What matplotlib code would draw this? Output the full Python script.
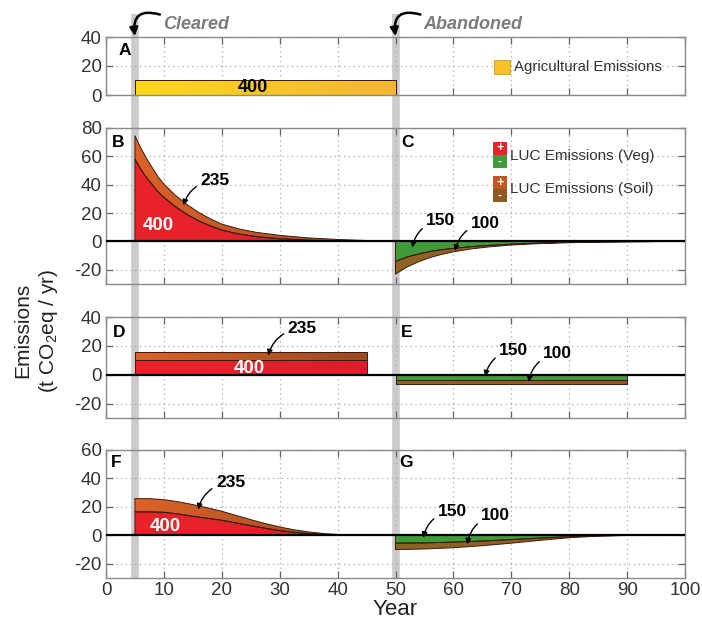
import numpy as np
import matplotlib
matplotlib.use('Agg')
import matplotlib.pyplot as plt
from matplotlib.colors import LinearSegmentedColormap
from matplotlib.patches import Rectangle
from matplotlib.lines import Line2D
import matplotlib.transforms as mtransforms

plt.rcParams['font.family'] = ['Liberation Sans', 'DejaVu Sans']
plt.rcParams['mathtext.fontset'] = 'custom'
plt.rcParams['mathtext.rm'] = 'Liberation Sans'
plt.rcParams['axes.unicode_minus'] = False

# ---------------- data ----------------
year_ticks = [0, 10, 20, 30, 40, 50, 60, 70, 80, 90, 100]
cleared_year = 5
abandoned_year = 50

# Panel A: agricultural emissions
agri_years = [5, 50]
agri_vals = [10.5, 10.5]

# Panel B: LUC emissions after clearing (exponential decay)
b_years = [5, 6, 7, 8, 9, 10, 12, 14, 16, 18, 20, 23, 26, 30, 35, 40, 45, 50]
b_veg = [58, 51, 45, 40, 35, 31, 24.5, 19, 14.5, 11, 8, 5.2, 3.4, 1.9, 0.9, 0.4, 0.15, 0]
b_soil = [16.5, 15, 13.5, 12, 10.5, 9.5, 8, 7, 6.0, 5.0, 4.2, 3.6, 3.0, 2.4, 1.6, 1.0, 0.5, 0.1]

# Panel C: LUC emissions after abandonment (regrowth)
c_years = [50, 52, 54, 56, 58, 60, 63, 66, 70, 75, 80, 85, 90, 95, 100]
c_veg = [-14, -11, -8.8, -7, -5.8, -4.9, -3.7, -2.8, -1.9, -1.1, -0.6, -0.3, -0.15, -0.05, 0]
c_soil = [-9, -7, -5.5, -4.3, -3.3, -2.4, -1.6, -1.1, -0.6, -0.4, -0.3, -0.15, -0.1, -0.05, 0]

# Panel D / E: flat (annualised) emissions
d_years = [5, 45]
d_veg = [10, 10]
d_soil = [5.9, 5.9]
e_years = [50, 90]
e_veg = [-3.9, -3.9]
e_soil = [-2.4, -2.4]

# Panel F / G: smooth (sigmoid) emissions
f_years = [5, 7.5, 10, 12.5, 15, 17.5, 20, 22.5, 25, 27.5, 30, 32.5, 35, 37.5, 40, 42.5, 45]
f_veg = [16.5, 16.5, 16.2, 15, 13.4, 12, 10.6, 8.7, 6.8, 5, 3.3, 2.1, 1.2, 0.6, 0.25, 0.08, 0]
f_soil = [9.3, 9.3, 8.9, 8.6, 8.2, 7.4, 6.3, 5.3, 4.2, 3.3, 2.6, 1.8, 1.2, 0.7, 0.35, 0.12, 0]
g_years = [50, 55, 60, 65, 70, 75, 80, 85, 90, 100]
g_veg = [-5.5, -5.3, -4.8, -4.0, -3.0, -1.9, -0.9, -0.3, -0.05, 0]
g_soil = [-4.5, -4.3, -3.9, -3.3, -2.5, -1.6, -0.8, -0.25, -0.05, 0]

# ---------------- colours ----------------
YEL0, YEL1 = '#fbd81a', '#f4b632'
RED0, RED1 = '#ea232b', '#dc1f28'
SOILP0, SOILP1 = '#dc6228', '#9b4a22'
GRN0, GRN1 = '#3f9c3a', '#46983c'
SOILN0, SOILN1 = '#8d6424', '#9c5428'
EDGE = '#3a1a10'

fig = plt.figure(figsize=(7.02, 6.24), dpi=100)
fig.patch.set_facecolor('white')

L, W = 106 / 702, (685 - 106) / 702
def add_ax(top_px, bot_px):
    return fig.add_axes([L, 1 - bot_px / 624, W, (bot_px - top_px) / 624])

axA = add_ax(37, 95)
axB = add_ax(128, 284)
axD = add_ax(317, 418)
axF = add_ax(450, 578)
axes = [axA, axB, axD, axF]


def grad_fill(ax, x, lo, hi, c0, c1, z=2):
    x = np.asarray(x, float)
    lo = np.broadcast_to(np.asarray(lo, float), x.shape)
    hi = np.broadcast_to(np.asarray(hi, float), x.shape)
    poly = ax.fill_between(x, lo, hi, facecolor='none', edgecolor=EDGE,
                           lw=0.7, zorder=z + 0.1)
    cmap = LinearSegmentedColormap.from_list('g', [c0, c1])
    grad = np.linspace(0, 1, 256).reshape(1, -1)
    ymin = min(lo.min(), hi.min())
    ymax = max(lo.max(), hi.max())
    im = ax.imshow(grad, extent=[x.min(), x.max(), ymin, ymax], aspect='auto',
                   cmap=cmap, origin='lower', zorder=z, interpolation='bilinear')
    im.set_clip_path(poly.get_paths()[0], transform=ax.transData)
    return poly


def stack(ax, yrs, veg, soil, pos=True):
    veg = np.asarray(veg, float)
    tot = veg + np.asarray(soil, float)
    if pos:
        grad_fill(ax, yrs, 0, veg, RED0, RED1, z=2)
        grad_fill(ax, yrs, veg, tot, SOILP0, SOILP1, z=2)
    else:
        grad_fill(ax, yrs, veg, 0, GRN0, GRN1, z=2)
        grad_fill(ax, yrs, tot, veg, SOILN0, SOILN1, z=2)


# Panel A
grad_fill(axA, agri_years, 0, agri_vals, YEL0, YEL1)
# Rows B/C, D/E, F/G
stack(axB, b_years, b_veg, b_soil, True)
stack(axB, c_years, c_veg, c_soil, False)
stack(axD, d_years, d_veg, d_soil, True)
stack(axD, e_years, e_veg, e_soil, False)
stack(axF, f_years, f_veg, f_soil, True)
stack(axF, g_years, g_veg, g_soil, False)

ylims = [(0, 40), (-30, 80), (-30, 40), (-30, 60)]
yticks = [[0, 20, 40], [-20, 0, 20, 40, 60, 80], [-20, 0, 20, 40], [-20, 0, 20, 40, 60]]
for ax, yl, yt in zip(axes, ylims, yticks):
    ax.set_facecolor('none')
    ax.set_xlim(0, 100)
    ax.set_ylim(*yl)
    ax.set_xticks(year_ticks)
    ax.set_yticks(yt)
    ax.set_axisbelow(True)
    ax.grid(True, linestyle=(0, (1.2, 2.6)), color='#b5b5b5', lw=0.9)
    ax.tick_params(direction='in', top=True, right=True, length=5, width=0.9,
                   color='#666666', labelsize=13.5, labelcolor='#333333', pad=3)
    for s in ax.spines.values():
        s.set_color('#8a8a8a')
        s.set_linewidth(1.0)
    if ax is not axF:
        ax.tick_params(labelbottom=False)
    if ax is not axA:
        ax.axhline(0, color='black', lw=1.6, zorder=5)

axF.set_xlabel('Year', fontsize=16, labelpad=0, color='#222222')

# gray event lines through all panels
trans = mtransforms.blended_transform_factory(axF.transData, fig.transFigure)
for yr in (cleared_year, abandoned_year):
    fig.add_artist(Line2D([yr, yr], [1 - 578 / 624, 1 - 14 / 624], transform=trans,
                          color='#cbcbcb', lw=5.5, zorder=-1, solid_capstyle='butt'))

# top labels with hook arrows
for yr, label in ((cleared_year, 'Cleared'), (abandoned_year, 'Abandoned')):
    axA.text(yr + 4.8, 48.5, label, fontsize=13, style='italic', weight='bold',
             color='#7c7c7c', ha='left', va='center', clip_on=False)
    axA.annotate('', xy=(yr, 40.6), xytext=(yr + 4.3, 55.5),
                 arrowprops=dict(arrowstyle='-|>', connectionstyle='arc3,rad=0.75',
                                 lw=1.8, color='black', mutation_scale=12,
                                 shrinkA=0, shrinkB=0),
                 annotation_clip=False)

# panel letters
axA.text(3.2, 31, 'A', fontsize=12.5, weight='bold', ha='center', va='center')
axB.text(2.1, 69.5, 'B', fontsize=12.5, weight='bold', ha='center', va='center')
axB.text(52.0, 69.5, 'C', fontsize=12.5, weight='bold', ha='center', va='center')
axD.text(2.2, 29.6, 'D', fontsize=12.5, weight='bold', ha='center', va='center')
axD.text(52.0, 29.6, 'E', fontsize=12.5, weight='bold', ha='center', va='center')
axF.text(1.8, 51, 'F', fontsize=12.5, weight='bold', ha='center', va='center')
axF.text(51.8, 51, 'G', fontsize=12.5, weight='bold', ha='center', va='center')

# totals
axA.text(25.3, 5.3, '400', fontsize=13, weight='bold', ha='center', va='center', zorder=6)
axB.text(9.0, 11, '400', fontsize=13.5, weight='bold', color='white', ha='center', va='center', zorder=6)
axD.text(24.7, 4.2, '400', fontsize=13.5, weight='bold', color='white', ha='center', va='center', zorder=6)
axF.text(10.3, 6.5, '400', fontsize=13.5, weight='bold', color='white', ha='center', va='center', zorder=6)


def note(ax, txt, xy, xyt):
    ax.annotate(txt, xy=xy, xytext=xyt, fontsize=12.5, weight='bold', ha='center',
                va='center', zorder=7,
                arrowprops=dict(arrowstyle='-|>', connectionstyle='arc3,rad=0.35',
                                lw=1.0, color='black', mutation_scale=8,
                                shrinkA=1, shrinkB=0))


note(axB, '235', (13.4, 25.5), (18.8, 42.7))
note(axB, '150', (52.9, -4.2), (57.8, 14.6))
note(axB, '100', (60.3, -6.6), (65.5, 12.7))
note(axD, '235', (28.0, 13.4), (33.9, 31.9))
note(axD, '150', (65.5, -1.2), (70.4, 16.9))
note(axD, '100', (73.0, -5.0), (78.0, 14.6))
note(axF, '235', (15.9, 18.2), (21.5, 36.9))
note(axF, '150', (54.8, -1.8), (59.8, 17.0))
note(axF, '100', (62.4, -6.3), (67.3, 14.0))

# legends (drawn manually)
axA.add_patch(Rectangle((67.0, 14.5), 2.7, 9.6, facecolor='#f6c229', edgecolor='#d49a20', lw=0.6, zorder=6))
axA.text(70.5, 19.3, 'Agricultural Emissions', fontsize=10.8, color='#333333', va='center', ha='left')


def split_patch(ax, x0, y0, w, h, ctop, cbot):
    ax.add_patch(Rectangle((x0, y0 + h / 2), w, h / 2, facecolor=ctop, edgecolor='none', zorder=6))
    ax.add_patch(Rectangle((x0, y0), w, h / 2, facecolor=cbot, edgecolor='none', zorder=6))
    ax.text(x0 + w / 2, y0 + 0.75 * h, '+', color='white', fontsize=9, weight='bold',
            ha='center', va='center', zorder=7)
    ax.text(x0 + w / 2, y0 + 0.25 * h, '-', color='white', fontsize=9, weight='bold',
            ha='center', va='center', zorder=7)


split_patch(axB, 66.8, 51.7, 2.4, 18.7, '#e2242b', '#3f9c3a')
split_patch(axB, 66.8, 27.5, 2.4, 18.7, '#c4571f', '#8d5a24')
axB.text(69.8, 60.3, 'LUC Emissions (Veg)', fontsize=11, color='#333333', va='center', ha='left')
axB.text(69.8, 36.9, 'LUC Emissions (Soil)', fontsize=11, color='#333333', va='center', ha='left')

fig.text(0.052, 0.47, 'Emissions\n(t CO$_2$eq / yr)', rotation=90, ha='center', va='center',
         fontsize=15, color='#222222', multialignment='center', linespacing=1.3)

fig.savefig('out.png', dpi=100, facecolor='white')
